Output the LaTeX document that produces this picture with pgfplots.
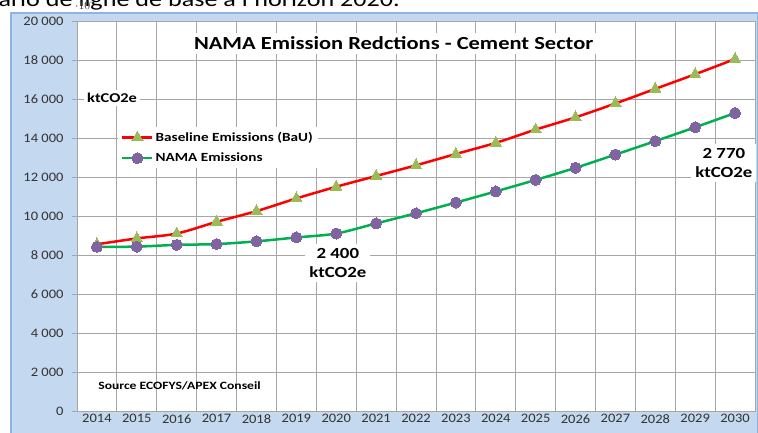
\documentclass[border=0pt]{standalone}
\usepackage{pgfplots}
\pgfplotsset{compat=1.18}
\usepackage{fontspec}
\setmainfont{Carlito}[FakeStretch=1.22]
\newfontfamily\tickfont{Carlito}[FakeStretch=1.12]
\definecolor{frameblue}{HTML}{C4D8F0}
\definecolor{frameedge}{HTML}{8EB4E3}
\definecolor{gridgray}{HTML}{A6A6A6}
\definecolor{bauRed}{HTML}{FF0000}
\definecolor{namaGreen}{HTML}{00B050}
\definecolor{triGreen}{HTML}{9BBB59}
\definecolor{circPurple}{HTML}{8064A2}
\begin{document}
\begin{tikzpicture}[x=1bp,y=1bp]
\clip (0,0) rectangle (758,432);
\fill[white] (0,0) rectangle (758,432);
\node[anchor=base east, font=\fontsize{21.5}{26}\selectfont, inner sep=0] at (400,425) {Scénario de ligne de base à l'horizon 2020.};
\draw[frameedge, line width=1.5, fill=frameblue] (11,-5) rectangle (757.5,419);
\begin{axis}[
  at={(77bp,21bp)}, anchor=south west,
  scale only axis, width=678bp, height=390bp,
  xmin=-0.5, xmax=16.5, ymin=0, ymax=20000,
  axis background/.style={fill=white},
  axis line style={gridgray, line width=0.8bp},
  xtick={0,...,16},
  xticklabels={2014,2015,2016,2017,2018,2019,2020,2021,2022,2023,2024,2025,2026,2027,2028,2029,2030},
  minor x tick num=1,
  xminorgrids=true,
  major x tick style={draw=none},
  minor x tick style={draw=none},
  ytick={0,2000,...,20000},
  yticklabels={0,2 000,4 000,6 000,8 000,10 000,12 000,14 000,16 000,18 000,20 000},
  ymajorgrids=true,
  grid style={gridgray, line width=0.8bp},
  minor grid style={gridgray, line width=0.8bp},
  ytick pos=left,
  ytick align=outside,
  major tick length=5bp,
  major y tick style={gridgray, line width=0.8bp},
  ticklabel style={font=\tickfont\fontsize{13}{15}\selectfont, text=black!80},
  yticklabel style={xshift=-5bp},
  legend style={at={(0.0605,0.728)}, anchor=north west, draw=none, fill=white,
    font=\fontsize{12.5}{15}\bfseries\selectfont, inner xsep=3bp, inner ysep=3bp,
    row sep=6bp, cells={anchor=west}},
  legend image code/.code={\draw[mark repeat=2,mark phase=2,#1] plot coordinates {(0bp,0bp) (15bp,0bp) (30bp,0bp)};},
  clip=false,
]
\addplot[bauRed, line width=2.5bp, smooth, mark=triangle*, mark size=6.5bp,
  mark options={fill=triGreen, draw=triGreen, solid, line width=0bp}]
  coordinates {(0,8550) (1,8850) (2,9100) (3,9700) (4,10250) (5,10900) (6,11500) (7,12050) (8,12600) (9,13180) (10,13750) (11,14430) (12,15060) (13,15770) (14,16520) (15,17270) (16,18050)};
\addlegendentry{Baseline Emissions (BaU)}
\addplot[namaGreen, line width=2.5bp, smooth, mark=*, mark size=5.5bp,
  mark options={fill=circPurple, draw=circPurple, solid, line width=0bp}]
  coordinates {(0,8420) (1,8430) (2,8520) (3,8560) (4,8700) (5,8900) (6,9100) (7,9620) (8,10140) (9,10690) (10,11260) (11,11850) (12,12470) (13,13150) (14,13840) (15,14550) (16,15280)};
\addlegendentry{NAMA Emissions}
\node[fill=white, inner sep=4bp, font=\fontsize{18.5}{22}\bfseries\selectfont] at (axis cs:7.44,18850) {NAMA Emission Redctions - Cement Sector};
\node[fill=white, inner sep=3bp, font=\fontsize{13.5}{16}\bfseries\selectfont] at (axis cs:0.38,16050) {ktCO2e};
\node[fill=white, inner sep=4bp, align=center, font=\fontsize{15.5}{19}\bfseries\selectfont] at (axis cs:6.04,7590) {2 400\\ktCO2e};
\node[fill=white, inner sep=4bp, align=center, font=\fontsize{15.5}{19}\bfseries\selectfont] at (axis cs:15.72,12720) {2 770\\ktCO2e};
\node[anchor=west, inner sep=0, font=\fontsize{11.2}{14}\bfseries\selectfont] at (axis cs:0.03,1280) {Source ECOFYS/APEX Conseil};
\end{axis}
\end{tikzpicture}
\end{document}
